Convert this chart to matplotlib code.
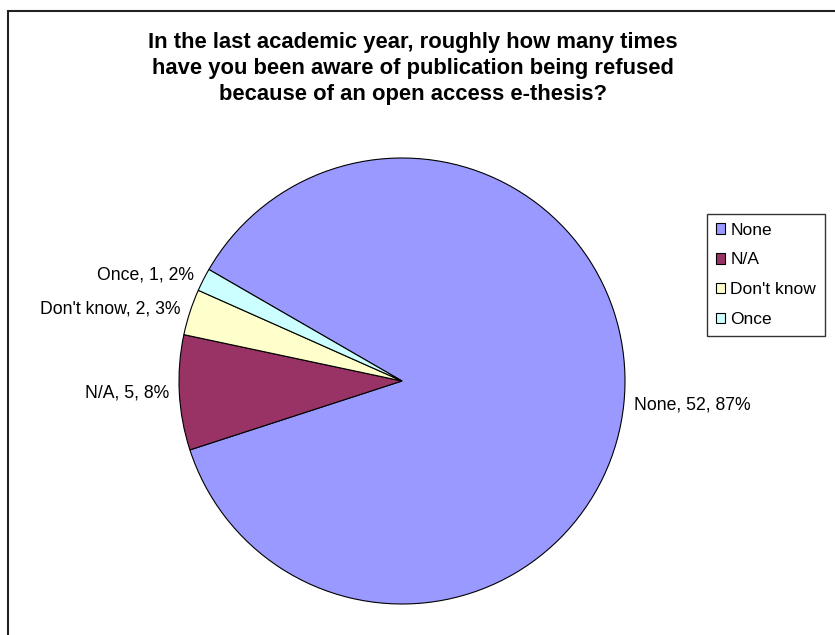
import matplotlib
matplotlib.use("Agg")
import matplotlib.pyplot as plt
from matplotlib.patches import Rectangle

plt.rcParams['font.family'] = ['Liberation Sans', 'DejaVu Sans']

# data
categories = ["None", "N/A", "Don't know", "Once"]
counts = [52, 5, 2, 1]
colors = ["#9999FF", "#993366", "#FFFFCC", "#CCFFFF"]
title = ("In the last academic year, roughly how many times\n"
         "have you been aware of publication being refused\n"
         "because of an open access e-thesis?")

total = sum(counts)
labels = ["%s, %d, %d%%" % (c, n, round(100.0 * n / total)) for c, n in zip(categories, counts)]

W, H = 835, 635
fig = plt.figure(figsize=(W / 100, H / 100), dpi=100)

# chart border (runs off the right and bottom edge like the original)
fig.patches.append(Rectangle((8 / W, -0.1), 1.2, 1 - 11 / H + 0.1, transform=fig.transFigure,
                             fill=False, edgecolor="#222222", linewidth=1.5))

cx, cy, r = 402, 381, 223
ax = fig.add_axes([(cx - r) / W, (H - cy - r) / H, 2 * r / W, 2 * r / H])
wedges, texts = ax.pie(counts, labels=labels, colors=colors, startangle=150, counterclock=False,
                       labeldistance=1.045, radius=1,
                       wedgeprops=dict(edgecolor="black", linewidth=0.8),
                       textprops=dict(fontsize=12.7, color="black"))
ax.set_xlim(-1, 1)
ax.set_ylim(-1, 1)
ax.set_aspect("equal")
ax.axis("off")

fig.text(413 / W, 1 - 68.5 / H, title, ha="center", va="center", fontsize=15.8,
         fontweight="bold", linespacing=1.33)

leg = fig.legend(wedges, categories, loc="upper left", bbox_to_anchor=(707 / W, 1 - 214 / H),
                 fontsize=12.5, frameon=True, fancybox=False, shadow=False,
                 handlelength=0.55, handleheight=0.55, handletextpad=0.3,
                 labelspacing=0.85, borderpad=0.5, borderaxespad=0)
leg.get_frame().set_edgecolor("black")
leg.get_frame().set_linewidth(1.0)

fig.savefig("out.png", dpi=100)
